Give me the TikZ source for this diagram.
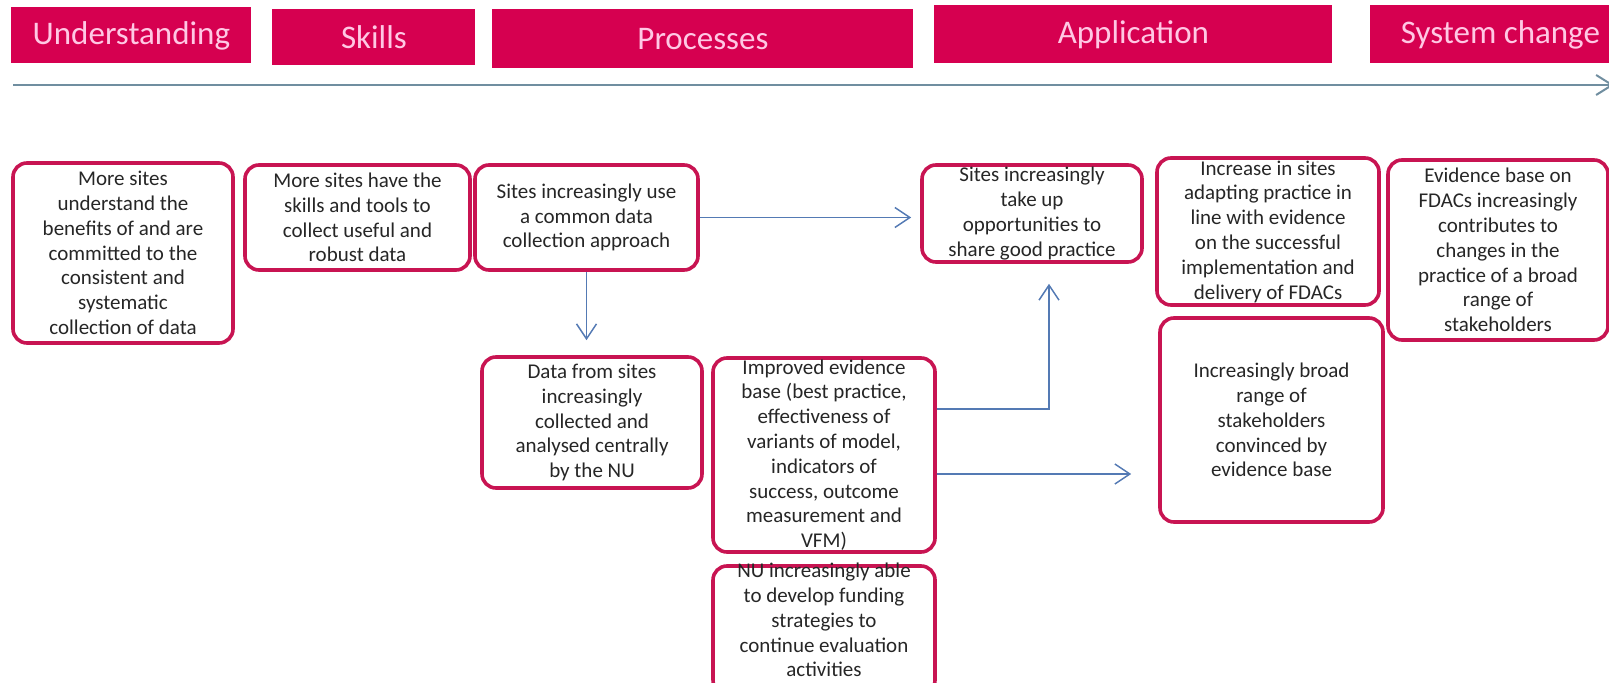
\documentclass[tikz,border=0pt]{standalone}
\usepackage{fontspec}
\setmainfont{Carlito}
\usetikzlibrary{arrows.meta}
\definecolor{headred}{RGB}{214,0,80}
\definecolor{headtext}{RGB}{255,200,228}
\definecolor{boxred}{RGB}{200,20,82}
\definecolor{linkblue}{RGB}{84,122,180}
\definecolor{timegray}{RGB}{112,142,160}

\begin{document}
\begin{tikzpicture}[x=0.5pt, y=-0.5pt, font=\fontsize{10.5}{12.4}\selectfont,
  head/.style={fill=headred, text=headtext, font=\fontsize{16.5}{19}\selectfont, anchor=north west, inner sep=0pt},
  outcome/.style={draw=boxred, line width=1.8pt, rounded corners=7pt, align=center, text=black!85, inner sep=0pt},
  link/.style={draw=linkblue, line width=0.75pt, -{Straight Barb[length=7.5pt,width=10pt]}}]
	\useasboundingbox (0,0) rectangle (1609,683);
	\node[head, minimum width=120pt, minimum height=28pt] (understanding) at (11,7) {Understanding};
	\node[head, minimum width=101.5pt, minimum height=28pt] (skills) at (272,9) {Skills};
	\node[head, minimum width=210.5pt, minimum height=29.5pt] (processes) at (492,9) {Processes};
	\node[head, minimum width=199pt, minimum height=29pt] (application) at (934,5) {Application};
	\node[head, minimum width=130pt, minimum height=29pt] (syschange) at (1370,5) {System change};
	\coordinate (tstart) at (13,85);
	\coordinate (tend) at (1614,85);
	\draw[timegray, line width=1pt, -{Straight Barb[length=8pt,width=10pt]}] (tstart) -- (tend);
	\node[outcome, minimum width=110pt, minimum height=90pt] (understand) at (123,253)
	  {More sites\\understand the\\benefits of and are\\committed to the\\consistent and\\systematic\\collection of data};
	\node[outcome, minimum width=112.5pt, minimum height=52.5pt] (tools) at (357.5,217.5)
	  {More sites have the\\skills and tools to\\collect useful and\\robust data};
	\node[outcome, minimum width=111.5pt, minimum height=52.5pt] (common) at (586.5,217.5)
	  {Sites increasingly use\\a common data\\collection approach};
	\node[outcome, minimum width=110pt, minimum height=48.5pt] (share) at (1032,213.5)
	  {Sites increasingly\\take up\\opportunities to\\share good practice};
	\node[outcome, minimum width=111pt, minimum height=73.5pt] (adapt) at (1268,231.5)
	  {Increase in sites\\adapting practice in\\line with evidence\\on the successful\\implementation and\\delivery of FDACs};
	\node[outcome, minimum width=110pt, minimum height=90pt] (sysevid) at (1498,250)
	  {Evidence base on\\FDACs increasingly\\contributes to\\changes in the\\practice of a broad\\range of\\stakeholders};
	\node[outcome, minimum width=110pt, minimum height=65.5pt] (central) at (592,422.5)
	  {Data from sites\\increasingly\\collected and\\analysed centrally\\by the NU};
	\node[outcome, minimum width=111pt, minimum height=97pt] (evidence) at (824,455)
	  {Improved evidence\\base (best practice,\\effectiveness of\\variants of model,\\indicators of\\success, outcome\\measurement and\\VFM)};
	\node[outcome, minimum width=111pt, minimum height=64pt] (funding) at (824,630) {};
	\node[align=center, text=black!85, inner sep=0pt] (fundingtext) at (824,620)
	  {NU increasingly able\\to develop funding\\strategies to\\continue evaluation\\activities};
	\node[outcome, minimum width=111.5pt, minimum height=102pt] (convince) at (1271.5,420)
	  {Increasingly broad\\range of\\stakeholders\\convinced by\\evidence base};
	\draw[link, shorten >=4.5pt] (common.east) -- (common.east -| share.west);
	\draw[link, shorten >=7.5pt] (common.south) -- (common.south |- central.north);
	\coordinate (evup) at ([yshift=23pt]evidence.east);
	\coordinate (evright) at ([yshift=-9.5pt]evidence.east);
	\draw[link, shorten >=10pt] (evup) -| ([xshift=8.5pt]share.south);
	\draw[link, shorten >=13.5pt] (evright) -- (evright -| convince.west);
\end{tikzpicture}
\end{document}
